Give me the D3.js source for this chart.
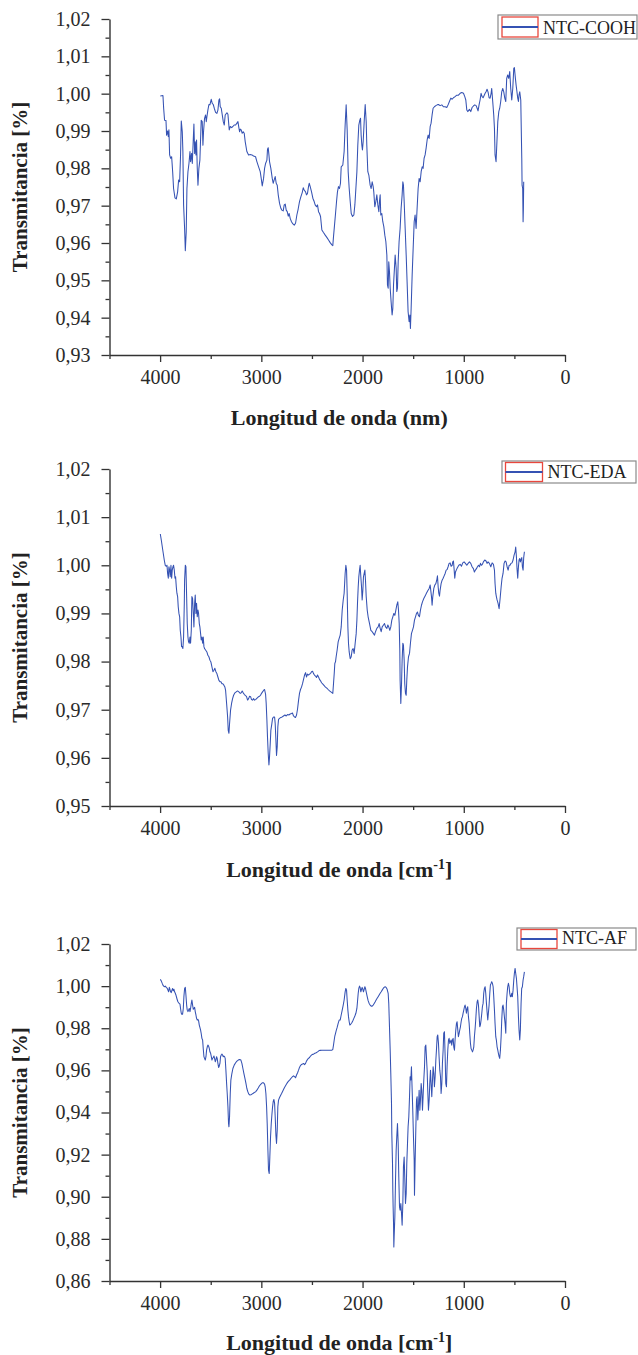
<!DOCTYPE html>
<html><head><meta charset="utf-8">
<script src="https://cdn.jsdelivr.net/npm/d3@7"></script>
<style>
body{margin:0;background:#fff;}
svg{display:block;font-family:"Liberation Serif","Times New Roman",serif;}
</style></head><body>
<svg id="c" width="638" height="1355"></svg>
<script>
// ---------- tick values / labels ----------
const xTickValues = [4000, 3000, 2000, 1000, 0];
const xTickLabels = ["4000", "3000", "2000", "1000", "0"];
const xMinorValues = [4500, 3500, 2500, 1500, 500];

const yTicks1 = [0.93, 0.94, 0.95, 0.96, 0.97, 0.98, 0.99, 1.00, 1.01, 1.02];
const yLabels1 = ["0,93","0,94","0,95","0,96","0,97","0,98","0,99","1,00","1,01","1,02"];
const yMinor1 = [0.935, 0.945, 0.955, 0.965, 0.975, 0.985, 0.995, 1.005, 1.015];

const yTicks2 = [0.95, 0.96, 0.97, 0.98, 0.99, 1.00, 1.01, 1.02];
const yLabels2 = ["0,95","0,96","0,97","0,98","0,99","1,00","1,01","1,02"];
const yMinor2 = [0.955, 0.965, 0.975, 0.985, 0.995, 1.005, 1.015];

const yTicks3 = [0.86, 0.88, 0.90, 0.92, 0.94, 0.96, 0.98, 1.00, 1.02];
const yLabels3 = ["0,86","0,88","0,90","0,92","0,94","0,96","0,98","1,00","1,02"];
const yMinor3 = [0.87, 0.89, 0.91, 0.93, 0.95, 0.97, 0.99, 1.01];

const seriesNames = ["NTC-COOH", "NTC-EDA", "NTC-AF"];

// ---------- series: [wavenumber, transmittance] ----------
const ntcCOOH = [[3998,0.9994],[3972,0.9995],[3965,0.9961],[3956,0.9929],[3942,0.9928],[3936,0.9889],[3926,0.9900],[3919,0.9885],[3913,0.9903],[3906,0.9836],[3896,0.9827],[3886,0.9831],[3876,0.9791],[3867,0.9746],[3853,0.9721],[3840,0.9718],[3827,0.9737],[3817,0.9769],[3807,0.9764],[3798,0.9836],[3791,0.9927],[3781,0.9898],[3775,0.9845],[3768,0.9702],[3758,0.9639],[3751,0.9579],[3742,0.9630],[3735,0.9746],[3725,0.9791],[3715,0.9813],[3705,0.9845],[3699,0.9818],[3689,0.9840],[3682,0.9813],[3672,0.9880],[3666,0.9919],[3659,0.9840],[3653,0.9871],[3646,0.9836],[3640,0.9876],[3633,0.9800],[3626,0.9755],[3617,0.9800],[3607,0.9822],[3600,0.9880],[3594,0.9929],[3584,0.9925],[3577,0.9862],[3571,0.9898],[3561,0.9934],[3551,0.9943],[3544,0.9925],[3538,0.9938],[3528,0.9956],[3518,0.9971],[3508,0.9970],[3495,0.9985],[3485,0.9974],[3475,0.9971],[3465,0.9961],[3452,0.9950],[3439,0.9947],[3429,0.9956],[3419,0.9983],[3412,0.9986],[3406,0.9965],[3396,0.9961],[3386,0.9943],[3376,0.9925],[3366,0.9916],[3357,0.9943],[3340,0.9949],[3330,0.9945],[3324,0.9925],[3317,0.9903],[3307,0.9912],[3294,0.9909],[3281,0.9912],[3268,0.9916],[3254,0.9916],[3241,0.9921],[3231,0.9925],[3222,0.9909],[3215,0.9898],[3208,0.9905],[3199,0.9903],[3189,0.9894],[3179,0.9898],[3169,0.9894],[3159,0.9871],[3143,0.9845],[3126,0.9836],[3110,0.9837],[3093,0.9836],[3077,0.9833],[3057,0.9831],[3044,0.9818],[3027,0.9804],[3011,0.9791],[3001,0.9773],[2991,0.9753],[2978,0.9773],[2968,0.9800],[2958,0.9813],[2945,0.9822],[2939,0.9851],[2932,0.9855],[2925,0.9836],[2919,0.9818],[2906,0.9800],[2892,0.9773],[2883,0.9760],[2873,0.9769],[2863,0.9778],[2853,0.9760],[2843,0.9755],[2833,0.9729],[2820,0.9706],[2807,0.9693],[2797,0.9688],[2784,0.9686],[2774,0.9702],[2764,0.9704],[2754,0.9688],[2744,0.9684],[2734,0.9672],[2725,0.9679],[2715,0.9666],[2702,0.9657],[2688,0.9651],[2675,0.9648],[2662,0.9653],[2649,0.9675],[2636,0.9691],[2623,0.9711],[2609,0.9724],[2596,0.9735],[2586,0.9748],[2577,0.9742],[2563,0.9737],[2554,0.9729],[2544,0.9733],[2534,0.9751],[2527,0.9760],[2517,0.9751],[2504,0.9737],[2491,0.9720],[2478,0.9711],[2468,0.9702],[2455,0.9697],[2445,0.9702],[2435,0.9684],[2425,0.9679],[2415,0.9671],[2402,0.9635],[2386,0.9628],[2369,0.9621],[2353,0.9615],[2336,0.9608],[2320,0.9601],[2303,0.9595],[2294,0.9593],[2287,0.9617],[2277,0.9648],[2267,0.9679],[2257,0.9711],[2248,0.9737],[2238,0.9751],[2228,0.9746],[2218,0.9760],[2211,0.9804],[2195,0.9809],[2182,0.9845],[2172,0.9916],[2162,0.9970],[2152,0.9903],[2142,0.9791],[2132,0.9746],[2122,0.9711],[2112,0.9679],[2099,0.9671],[2086,0.9675],[2076,0.9702],[2066,0.9746],[2056,0.9791],[2047,0.9862],[2037,0.9916],[2027,0.9929],[2020,0.9934],[2014,0.9889],[2007,0.9862],[2001,0.9849],[1994,0.9871],[1984,0.9925],[1974,0.9971],[1964,0.9925],[1958,0.9862],[1948,0.9791],[1938,0.9782],[1925,0.9755],[1915,0.9746],[1905,0.9764],[1895,0.9751],[1889,0.9737],[1879,0.9697],[1869,0.9711],[1859,0.9729],[1849,0.9702],[1839,0.9684],[1833,0.9711],[1826,0.9729],[1820,0.9675],[1810,0.9679],[1800,0.9657],[1790,0.9644],[1780,0.9621],[1770,0.9604],[1760,0.9568],[1754,0.9488],[1747,0.9479],[1741,0.9550],[1734,0.9523],[1727,0.9479],[1718,0.9443],[1708,0.9407],[1701,0.9425],[1694,0.9488],[1685,0.9532],[1678,0.9568],[1668,0.9532],[1662,0.9470],[1655,0.9479],[1648,0.9550],[1639,0.9604],[1629,0.9639],[1619,0.9693],[1609,0.9729],[1602,0.9764],[1596,0.9755],[1589,0.9711],[1579,0.9639],[1569,0.9568],[1560,0.9496],[1550,0.9416],[1540,0.9389],[1533,0.9407],[1527,0.9371],[1520,0.9425],[1510,0.9514],[1500,0.9586],[1490,0.9657],[1481,0.9675],[1471,0.9639],[1461,0.9693],[1451,0.9746],[1441,0.9773],[1431,0.9764],[1421,0.9791],[1411,0.9804],[1402,0.9800],[1392,0.9827],[1382,0.9836],[1372,0.9854],[1362,0.9876],[1352,0.9889],[1342,0.9880],[1332,0.9912],[1323,0.9921],[1313,0.9943],[1303,0.9961],[1290,0.9965],[1276,0.9968],[1263,0.9970],[1250,0.9971],[1234,0.9968],[1217,0.9970],[1201,0.9965],[1184,0.9965],[1168,0.9963],[1155,0.9970],[1142,0.9979],[1128,0.9988],[1115,0.9985],[1102,0.9989],[1086,0.9992],[1069,0.9996],[1053,0.9996],[1036,1.0001],[1020,1.0003],[1003,1.0001],[990,0.9992],[980,0.9983],[970,0.9956],[961,0.9952],[944,0.9958],[931,0.9952],[918,0.9963],[905,0.9967],[891,0.9970],[878,0.9968],[868,0.9961],[859,0.9954],[849,0.9970],[839,0.9983],[829,1.0001],[819,0.9992],[809,0.9989],[799,0.9995],[789,1.0001],[780,1.0005],[770,1.0012],[760,1.0004],[750,0.9989],[740,0.9988],[730,1.0001],[724,1.0014],[714,0.9979],[704,0.9943],[697,0.9907],[691,0.9836],[681,0.9818],[674,0.9862],[664,0.9925],[654,0.9952],[645,0.9961],[635,0.9979],[625,1.0005],[615,1.0014],[605,1.0005],[595,0.9988],[585,0.9979],[576,1.0041],[566,1.0050],[556,1.0041],[546,1.0059],[536,1.0014],[526,0.9983],[516,1.0014],[506,1.0068],[500,1.0070],[490,1.0041],[483,1.0023],[477,1.0010],[467,0.9988],[460,0.9979],[454,0.9997],[447,1.0005],[437,0.9983],[427,0.9827],[424,0.9755],[418,0.9746],[414,0.9657],[411,0.9693],[408,0.9764]];

const ntcEDA = [[3998,1.0065],[3988,1.0052],[3979,1.0039],[3969,1.0025],[3959,1.0011],[3949,1.0000],[3939,0.9998],[3932,1.0000],[3926,0.9983],[3919,0.9973],[3913,0.9997],[3906,0.9990],[3900,0.9976],[3893,1.0000],[3886,0.9973],[3880,0.9990],[3873,0.9997],[3867,1.0000],[3860,0.9990],[3853,0.9973],[3847,0.9976],[3840,0.9955],[3834,0.9942],[3827,0.9935],[3821,0.9914],[3814,0.9900],[3807,0.9893],[3801,0.9865],[3794,0.9851],[3788,0.9831],[3781,0.9831],[3775,0.9827],[3768,0.9851],[3761,0.9921],[3758,0.9969],[3751,1.0000],[3745,0.9997],[3738,0.9935],[3732,0.9879],[3725,0.9851],[3719,0.9841],[3712,0.9838],[3705,0.9851],[3699,0.9838],[3692,0.9865],[3686,0.9935],[3679,0.9931],[3672,0.9900],[3666,0.9872],[3659,0.9921],[3653,0.9938],[3646,0.9900],[3640,0.9921],[3633,0.9893],[3626,0.9907],[3620,0.9900],[3613,0.9879],[3607,0.9872],[3600,0.9858],[3594,0.9845],[3587,0.9851],[3580,0.9838],[3574,0.9851],[3567,0.9831],[3561,0.9827],[3551,0.9824],[3538,0.9820],[3528,0.9813],[3518,0.9810],[3508,0.9803],[3498,0.9799],[3488,0.9789],[3478,0.9779],[3468,0.9782],[3459,0.9786],[3449,0.9779],[3439,0.9775],[3429,0.9768],[3419,0.9761],[3409,0.9758],[3399,0.9758],[3389,0.9754],[3380,0.9754],[3370,0.9751],[3360,0.9747],[3353,0.9740],[3343,0.9713],[3333,0.9685],[3327,0.9657],[3320,0.9651],[3314,0.9671],[3304,0.9699],[3294,0.9713],[3284,0.9723],[3274,0.9730],[3261,0.9735],[3248,0.9737],[3235,0.9739],[3222,0.9737],[3208,0.9734],[3199,0.9735],[3189,0.9739],[3179,0.9735],[3169,0.9732],[3159,0.9730],[3146,0.9727],[3136,0.9720],[3126,0.9723],[3116,0.9728],[3106,0.9727],[3097,0.9721],[3087,0.9720],[3077,0.9723],[3067,0.9720],[3057,0.9721],[3047,0.9723],[3037,0.9725],[3027,0.9727],[3018,0.9728],[3008,0.9730],[2998,0.9734],[2988,0.9737],[2978,0.9740],[2968,0.9742],[2958,0.9732],[2952,0.9713],[2945,0.9678],[2939,0.9643],[2932,0.9609],[2925,0.9585],[2919,0.9602],[2912,0.9630],[2906,0.9657],[2896,0.9671],[2889,0.9682],[2879,0.9685],[2869,0.9685],[2863,0.9671],[2856,0.9637],[2850,0.9605],[2843,0.9623],[2837,0.9664],[2830,0.9680],[2820,0.9682],[2807,0.9684],[2794,0.9685],[2781,0.9687],[2767,0.9689],[2754,0.9687],[2741,0.9690],[2728,0.9689],[2715,0.9691],[2702,0.9692],[2692,0.9693],[2682,0.9687],[2672,0.9685],[2662,0.9684],[2652,0.9689],[2642,0.9702],[2632,0.9720],[2623,0.9734],[2613,0.9742],[2603,0.9747],[2593,0.9754],[2583,0.9763],[2573,0.9772],[2563,0.9777],[2554,0.9768],[2544,0.9774],[2534,0.9772],[2524,0.9774],[2514,0.9775],[2504,0.9779],[2494,0.9780],[2484,0.9775],[2475,0.9772],[2465,0.9770],[2455,0.9767],[2445,0.9772],[2435,0.9768],[2425,0.9763],[2415,0.9760],[2405,0.9756],[2392,0.9753],[2379,0.9750],[2366,0.9747],[2353,0.9745],[2340,0.9742],[2326,0.9739],[2313,0.9737],[2300,0.9735],[2294,0.9734],[2287,0.9754],[2280,0.9775],[2274,0.9796],[2267,0.9800],[2261,0.9810],[2251,0.9824],[2241,0.9841],[2231,0.9848],[2221,0.9855],[2211,0.9872],[2201,0.9907],[2191,0.9928],[2182,0.9942],[2172,0.9983],[2165,1.0000],[2158,0.9990],[2152,0.9942],[2145,0.9872],[2139,0.9838],[2132,0.9820],[2122,0.9806],[2112,0.9810],[2103,0.9824],[2093,0.9827],[2083,0.9817],[2073,0.9838],[2063,0.9858],[2056,0.9886],[2050,0.9921],[2043,0.9955],[2037,0.9976],[2030,0.9990],[2024,1.0000],[2017,0.9976],[2010,0.9955],[2004,0.9928],[1997,0.9948],[1991,0.9976],[1984,0.9983],[1977,0.9990],[1971,0.9969],[1964,0.9935],[1954,0.9907],[1945,0.9893],[1931,0.9879],[1918,0.9865],[1905,0.9862],[1892,0.9858],[1882,0.9855],[1872,0.9862],[1859,0.9869],[1846,0.9872],[1836,0.9879],[1826,0.9869],[1816,0.9862],[1806,0.9872],[1793,0.9876],[1783,0.9879],[1773,0.9872],[1760,0.9869],[1750,0.9876],[1741,0.9872],[1731,0.9865],[1721,0.9872],[1711,0.9886],[1701,0.9893],[1691,0.9900],[1681,0.9896],[1671,0.9907],[1662,0.9917],[1652,0.9924],[1645,0.9907],[1638,0.9879],[1632,0.9824],[1629,0.9761],[1622,0.9713],[1615,0.9754],[1609,0.9803],[1602,0.9838],[1596,0.9834],[1589,0.9803],[1583,0.9754],[1576,0.9734],[1569,0.9730],[1563,0.9761],[1556,0.9789],[1546,0.9810],[1536,0.9817],[1527,0.9838],[1517,0.9858],[1507,0.9865],[1497,0.9872],[1487,0.9886],[1477,0.9893],[1467,0.9900],[1458,0.9903],[1448,0.9896],[1438,0.9893],[1428,0.9907],[1418,0.9917],[1408,0.9924],[1395,0.9931],[1382,0.9936],[1369,0.9942],[1356,0.9947],[1342,0.9952],[1332,0.9959],[1326,0.9948],[1319,0.9935],[1313,0.9917],[1306,0.9935],[1296,0.9952],[1286,0.9959],[1276,0.9962],[1267,0.9969],[1260,0.9978],[1253,0.9955],[1247,0.9942],[1240,0.9936],[1234,0.9948],[1224,0.9962],[1214,0.9969],[1204,0.9973],[1194,0.9978],[1184,0.9983],[1174,0.9990],[1165,0.9991],[1155,0.9997],[1145,1.0004],[1135,1.0005],[1125,0.9998],[1115,1.0000],[1109,1.0007],[1102,1.0009],[1096,0.9993],[1089,0.9973],[1082,0.9986],[1072,0.9991],[1063,0.9995],[1049,1.0000],[1036,1.0002],[1023,0.9998],[1010,1.0005],[997,1.0007],[984,1.0004],[970,1.0000],[957,1.0004],[944,1.0007],[931,1.0004],[918,0.9997],[905,0.9993],[895,0.9986],[885,0.9990],[875,0.9993],[865,0.9997],[855,1.0000],[845,0.9997],[835,1.0004],[826,1.0000],[816,1.0002],[806,1.0007],[793,1.0011],[780,1.0009],[770,1.0004],[760,1.0007],[747,1.0004],[733,0.9997],[720,1.0005],[707,1.0002],[697,0.9990],[691,0.9962],[684,0.9942],[678,0.9935],[671,0.9928],[661,0.9921],[651,0.9910],[641,0.9931],[631,0.9955],[622,0.9973],[612,0.9983],[602,1.0004],[592,1.0009],[582,1.0007],[572,0.9997],[562,0.9990],[552,1.0000],[543,1.0000],[533,1.0004],[523,1.0005],[513,1.0011],[503,1.0021],[493,1.0028],[487,1.0038],[480,1.0018],[474,0.9993],[467,0.9973],[460,0.9997],[454,1.0011],[447,1.0014],[441,1.0007],[434,1.0012],[427,1.0016],[421,0.9997],[414,0.9990],[408,1.0016],[401,1.0028]];

const ntcAF = [[3998,1.0032],[3988,1.0024],[3979,1.0013],[3969,1.0002],[3959,0.9997],[3949,1.0000],[3939,0.9994],[3929,0.9989],[3923,0.9981],[3916,0.9973],[3909,0.9994],[3903,0.9985],[3896,0.9973],[3890,0.9969],[3883,0.9981],[3877,0.9989],[3870,0.9978],[3863,0.9985],[3857,0.9973],[3850,0.9966],[3844,0.9958],[3837,0.9946],[3830,0.9934],[3824,0.9926],[3817,0.9921],[3811,0.9918],[3804,0.9915],[3798,0.9894],[3791,0.9871],[3784,0.9866],[3778,0.9867],[3771,0.9894],[3765,0.9950],[3758,0.9989],[3751,0.9994],[3745,0.9958],[3738,0.9910],[3732,0.9886],[3725,0.9879],[3719,0.9886],[3712,0.9894],[3705,0.9879],[3699,0.9894],[3692,0.9918],[3686,0.9934],[3679,0.9910],[3672,0.9890],[3666,0.9894],[3659,0.9899],[3653,0.9879],[3646,0.9863],[3640,0.9847],[3633,0.9839],[3626,0.9842],[3620,0.9836],[3613,0.9815],[3607,0.9804],[3600,0.9791],[3594,0.9775],[3587,0.9752],[3580,0.9744],[3574,0.9704],[3567,0.9665],[3561,0.9657],[3554,0.9649],[3547,0.9665],[3541,0.9696],[3534,0.9712],[3528,0.9720],[3521,0.9715],[3514,0.9704],[3508,0.9688],[3501,0.9681],[3495,0.9668],[3488,0.9649],[3482,0.9657],[3475,0.9661],[3468,0.9668],[3462,0.9657],[3455,0.9641],[3449,0.9649],[3442,0.9665],[3436,0.9657],[3429,0.9633],[3422,0.9614],[3416,0.9620],[3409,0.9633],[3403,0.9665],[3396,0.9673],[3389,0.9677],[3383,0.9673],[3376,0.9665],[3370,0.9668],[3363,0.9665],[3357,0.9657],[3350,0.9601],[3343,0.9538],[3337,0.9490],[3330,0.9427],[3324,0.9348],[3320,0.9332],[3314,0.9380],[3307,0.9490],[3301,0.9554],[3291,0.9585],[3281,0.9609],[3268,0.9625],[3254,0.9636],[3241,0.9644],[3228,0.9649],[3215,0.9652],[3202,0.9649],[3192,0.9633],[3182,0.9609],[3172,0.9585],[3162,0.9562],[3152,0.9538],[3143,0.9514],[3133,0.9498],[3123,0.9487],[3113,0.9483],[3103,0.9484],[3093,0.9487],[3083,0.9490],[3070,0.9495],[3057,0.9498],[3044,0.9506],[3031,0.9516],[3018,0.9527],[3004,0.9535],[2991,0.9541],[2978,0.9541],[2968,0.9535],[2962,0.9522],[2955,0.9490],[2948,0.9427],[2942,0.9348],[2935,0.9221],[2929,0.9126],[2922,0.9110],[2916,0.9189],[2909,0.9284],[2902,0.9348],[2896,0.9387],[2889,0.9427],[2883,0.9451],[2876,0.9462],[2869,0.9443],[2863,0.9380],[2856,0.9292],[2850,0.9253],[2843,0.9316],[2837,0.9427],[2830,0.9459],[2820,0.9471],[2810,0.9481],[2800,0.9490],[2790,0.9500],[2781,0.9509],[2771,0.9519],[2761,0.9527],[2751,0.9535],[2741,0.9543],[2731,0.9549],[2721,0.9554],[2711,0.9560],[2702,0.9565],[2692,0.9570],[2682,0.9574],[2672,0.9570],[2662,0.9565],[2652,0.9578],[2642,0.9589],[2632,0.9601],[2623,0.9614],[2613,0.9623],[2603,0.9628],[2593,0.9630],[2583,0.9633],[2573,0.9627],[2563,0.9633],[2554,0.9644],[2544,0.9652],[2534,0.9657],[2524,0.9661],[2514,0.9668],[2504,0.9673],[2494,0.9676],[2484,0.9677],[2471,0.9681],[2458,0.9684],[2445,0.9688],[2432,0.9693],[2419,0.9695],[2402,0.9696],[2386,0.9696],[2369,0.9696],[2353,0.9696],[2336,0.9696],[2320,0.9696],[2303,0.9696],[2294,0.9699],[2287,0.9720],[2280,0.9744],[2274,0.9763],[2267,0.9776],[2261,0.9788],[2251,0.9804],[2241,0.9823],[2231,0.9839],[2221,0.9839],[2211,0.9863],[2201,0.9886],[2191,0.9910],[2182,0.9934],[2172,0.9973],[2165,0.9989],[2158,0.9981],[2152,0.9934],[2145,0.9886],[2139,0.9855],[2132,0.9831],[2126,0.9815],[2116,0.9820],[2106,0.9826],[2096,0.9836],[2086,0.9847],[2076,0.9858],[2066,0.9871],[2056,0.9894],[2050,0.9926],[2043,0.9966],[2037,0.9989],[2030,1.0000],[2024,0.9994],[2017,0.9973],[2010,0.9985],[2004,0.9994],[1997,0.9985],[1991,0.9973],[1984,0.9985],[1977,0.9997],[1971,0.9989],[1964,0.9973],[1954,0.9950],[1945,0.9931],[1935,0.9918],[1925,0.9910],[1915,0.9905],[1905,0.9905],[1895,0.9910],[1885,0.9918],[1875,0.9926],[1866,0.9934],[1856,0.9942],[1846,0.9950],[1836,0.9958],[1826,0.9966],[1816,0.9973],[1806,0.9981],[1796,0.9989],[1787,0.9994],[1777,0.9997],[1767,0.9994],[1757,0.9985],[1747,0.9966],[1741,0.9918],[1734,0.9807],[1727,0.9696],[1721,0.9585],[1714,0.9443],[1711,0.9300],[1704,0.9158],[1701,0.9031],[1698,0.8952],[1694,0.8873],[1691,0.8762],[1688,0.8809],[1681,0.8904],[1675,0.9063],[1668,0.9221],[1662,0.9284],[1655,0.9348],[1648,0.9253],[1642,0.9094],[1635,0.8952],[1629,0.8936],[1622,0.8968],[1615,0.8920],[1609,0.8865],[1602,0.8968],[1596,0.9142],[1589,0.9189],[1583,0.9094],[1576,0.8968],[1569,0.9015],[1563,0.9158],[1556,0.9253],[1550,0.9332],[1543,0.9380],[1536,0.9475],[1530,0.9570],[1523,0.9554],[1517,0.9617],[1510,0.9506],[1504,0.9411],[1497,0.9284],[1490,0.9174],[1487,0.9007],[1481,0.9158],[1474,0.9316],[1467,0.9459],[1461,0.9475],[1454,0.9364],[1448,0.9427],[1441,0.9506],[1434,0.9411],[1428,0.9459],[1421,0.9538],[1415,0.9506],[1408,0.9411],[1402,0.9475],[1395,0.9554],[1388,0.9617],[1382,0.9712],[1375,0.9720],[1369,0.9665],[1362,0.9601],[1356,0.9506],[1349,0.9411],[1342,0.9459],[1336,0.9538],[1329,0.9601],[1323,0.9538],[1316,0.9475],[1309,0.9554],[1303,0.9617],[1296,0.9585],[1290,0.9522],[1283,0.9570],[1276,0.9649],[1270,0.9696],[1263,0.9760],[1257,0.9768],[1250,0.9728],[1244,0.9665],[1237,0.9601],[1230,0.9570],[1224,0.9490],[1217,0.9538],[1211,0.9633],[1204,0.9696],[1198,0.9776],[1191,0.9783],[1184,0.9665],[1178,0.9538],[1171,0.9522],[1165,0.9617],[1158,0.9696],[1151,0.9744],[1145,0.9752],[1138,0.9728],[1132,0.9736],[1125,0.9744],[1119,0.9720],[1112,0.9744],[1105,0.9752],[1099,0.9712],[1092,0.9696],[1086,0.9744],[1079,0.9791],[1072,0.9823],[1066,0.9831],[1059,0.9791],[1053,0.9760],[1046,0.9776],[1040,0.9791],[1033,0.9807],[1026,0.9831],[1020,0.9847],[1013,0.9855],[1007,0.9871],[1000,0.9886],[993,0.9902],[987,0.9910],[980,0.9894],[974,0.9871],[967,0.9894],[961,0.9902],[954,0.9855],[947,0.9823],[941,0.9776],[934,0.9728],[928,0.9704],[921,0.9696],[914,0.9688],[908,0.9696],[901,0.9712],[895,0.9760],[888,0.9799],[882,0.9839],[875,0.9894],[868,0.9926],[862,0.9934],[855,0.9910],[849,0.9863],[842,0.9807],[836,0.9815],[829,0.9839],[822,0.9871],[816,0.9902],[809,0.9918],[803,0.9966],[796,0.9989],[789,0.9997],[783,0.9966],[776,0.9918],[770,0.9879],[763,0.9839],[757,0.9871],[750,0.9910],[743,0.9966],[737,1.0005],[730,1.0013],[724,1.0021],[717,1.0013],[710,0.9997],[704,0.9950],[697,0.9886],[691,0.9823],[684,0.9760],[678,0.9744],[671,0.9712],[664,0.9696],[658,0.9681],[651,0.9665],[645,0.9657],[638,0.9696],[631,0.9760],[625,0.9839],[618,0.9902],[612,0.9910],[605,0.9886],[599,0.9855],[592,0.9823],[585,0.9776],[579,0.9918],[572,0.9966],[566,0.9997],[559,1.0013],[552,0.9997],[546,0.9966],[539,0.9950],[533,0.9950],[526,0.9966],[520,0.9950],[513,0.9981],[506,1.0029],[500,1.0061],[493,1.0084],[487,1.0061],[480,1.0037],[474,0.9997],[467,0.9950],[460,0.9855],[454,0.9791],[447,0.9744],[441,0.9791],[434,0.9918],[428,0.9989],[421,0.9997],[414,1.0029],[408,1.0045],[401,1.0068]];

// ---------- drawing ----------
const svg = d3.select("#c");
const FONT = '"Liberation Serif","Times New Roman",serif';
const AXIS_COLOR = "#333";
const LINE_COLOR = "#3552b3";

const panels = [
  { data: ntcCOOH, name: seriesNames[0], yDomain: [0.93, 1.02], yTicks: yTicks1, yLabels: yLabels1, yMinor: yMinor1,
    top: 19, bottom: 355, xTitle: "nm", xTitleY: 425,
    leg: { x: 498, y: 15, w: 139, h: 24, sx: 502, sy: 17, sw: 36, sh: 20, ty: 34 } },
  { data: ntcEDA, name: seriesNames[1], yDomain: [0.95, 1.02], yTicks: yTicks2, yLabels: yLabels2, yMinor: yMinor2,
    top: 469, bottom: 806, xTitle: "cm", xTitleY: 877,
    leg: { x: 502, y: 461, w: 134, h: 22, sx: 505.5, sy: 462.5, sw: 37, sh: 19, ty: 477.5 } },
  { data: ntcAF, name: seriesNames[2], yDomain: [0.86, 1.02], yTicks: yTicks3, yLabels: yLabels3, yMinor: yMinor3,
    top: 944, bottom: 1281, xTitle: "cm", xTitleY: 1350,
    leg: { x: 517, y: 928, w: 119, h: 22, sx: 521, sy: 929.5, sw: 36, sh: 19, ty: 944 } }
];

const X0 = 109.5, X1 = 565;

function styleAxis(g) {
  g.attr("font-family", FONT).attr("font-size", 20).attr("color", AXIS_COLOR);
  g.selectAll("text").attr("fill", "#2a2a2a");
  g.selectAll("line").attr("stroke-width", 1.3);
  g.selectAll(".domain").attr("stroke-width", 1.4);
}

panels.forEach(p => {
  const x = d3.scaleLinear().domain([4500, 0]).range([X0, X1]);
  const y = d3.scaleLinear().domain(p.yDomain).range([p.bottom, p.top]);
  const g = svg.append("g");

  // x minor ticks
  g.append("g").attr("transform", `translate(0,${p.bottom})`)
    .call(d3.axisBottom(x).tickValues(xMinorValues).tickSize(4).tickSizeOuter(0).tickFormat(""))
    .call(s => { s.select(".domain").remove(); styleAxis(s); });
  // x major axis
  g.append("g").attr("transform", `translate(0,${p.bottom})`)
    .call(d3.axisBottom(x).tickValues(xTickValues).tickSize(7).tickPadding(8).tickSizeOuter(0)
      .tickFormat((d, i) => xTickLabels[i]))
    .call(styleAxis);

  // y minor ticks
  g.append("g").attr("transform", `translate(${X0},0)`)
    .call(d3.axisLeft(y).tickValues(p.yMinor).tickSize(4).tickSizeOuter(0).tickFormat(""))
    .call(s => { s.select(".domain").remove(); styleAxis(s); });
  // y major axis
  g.append("g").attr("transform", `translate(${X0},0)`)
    .call(d3.axisLeft(y).tickValues(p.yTicks).tickSize(8).tickPadding(11).tickSizeOuter(0)
      .tickFormat((d, i) => p.yLabels[i]))
    .call(styleAxis);

  // spectrum line
  const line = d3.line().x(d => x(d[0])).y(d => y(d[1]));
  g.append("path").datum(p.data)
    .attr("d", line).attr("fill", "none")
    .attr("stroke", LINE_COLOR).attr("stroke-width", 1.05)
    .attr("stroke-linejoin", "round");

  // legend
  const L = p.leg;
  g.append("rect").attr("x", L.x).attr("y", L.y).attr("width", L.w).attr("height", L.h)
    .attr("fill", "#fff").attr("stroke", "#8a8a8a").attr("stroke-width", 1.2);
  g.append("rect").attr("x", L.sx).attr("y", L.sy).attr("width", L.sw).attr("height", L.sh)
    .attr("fill", "none").attr("stroke", "#e8473d").attr("stroke-width", 1.3);
  g.append("line").attr("x1", L.sx).attr("x2", L.sx + L.sw)
    .attr("y1", L.sy + L.sh / 2).attr("y2", L.sy + L.sh / 2)
    .attr("stroke", LINE_COLOR).attr("stroke-width", 2);
  g.append("text").attr("x", L.sx + L.sw + 5).attr("y", L.ty)
    .attr("font-family", FONT).attr("font-size", 18).attr("fill", "#222").text(p.name);

  // y title
  const cy = (p.top + p.bottom) / 2;
  g.append("text")
    .attr("transform", `translate(27,${cy}) rotate(-90)`)
    .attr("text-anchor", "middle").attr("font-family", FONT).attr("font-size", 21)
    .attr("font-weight", "bold").attr("fill", "#222")
    .text("Transmitancia [%]");

  // x title
  const t = g.append("text").attr("x", (X0 + X1) / 2 + 2).attr("y", p.xTitleY)
    .attr("text-anchor", "middle").attr("font-family", FONT).attr("font-size", 22)
    .attr("font-weight", "bold").attr("fill", "#222");
  if (p.xTitle === "nm") {
    t.text("Longitud de onda (nm)");
  } else {
    t.append("tspan").text("Longitud de onda [cm");
    t.append("tspan").attr("font-size", 14).attr("dy", -8).text("-1");
    t.append("tspan").attr("dy", 8).text("]");
  }
});
</script>
</body></html>
